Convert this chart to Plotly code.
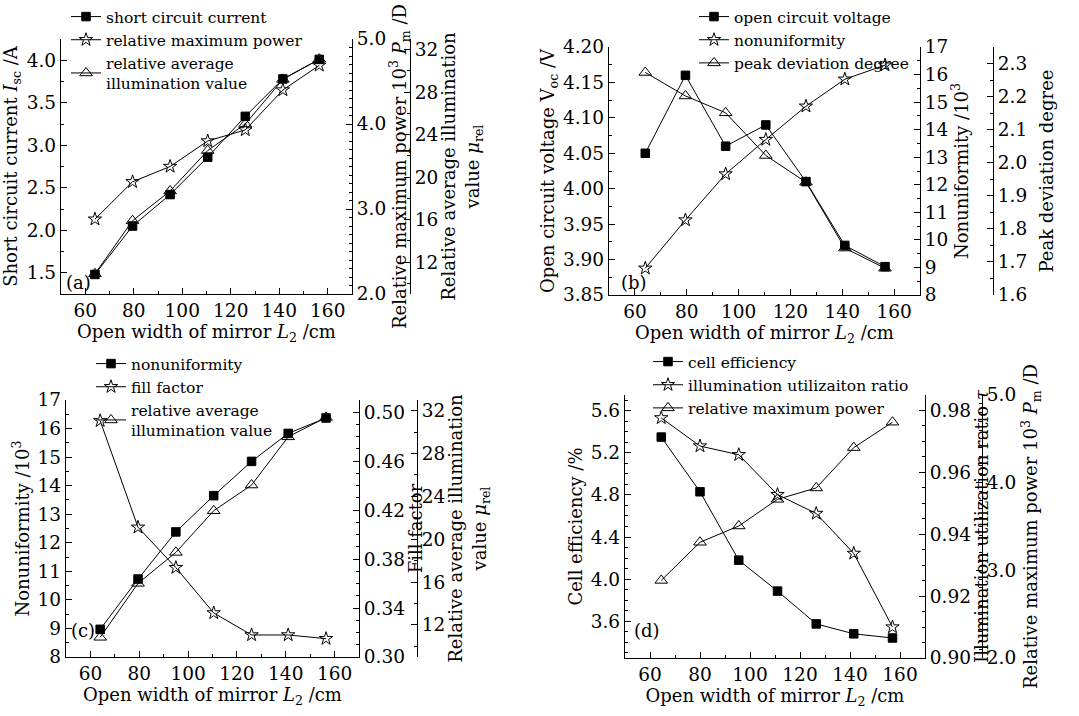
import plotly.graph_objects as go

W, H = 1079, 716
FONT = "DejaVu Serif"

# ---------------- data ----------------
# (a)
x_a = [64, 79.5, 95, 110.5, 126, 141.5, 156.5]
isc_a = [1.48, 2.05, 2.42, 2.86, 3.34, 3.78, 4.01]
pm_a = [2.88, 3.32, 3.50, 3.80, 3.93, 4.40, 4.69]
mu_a = [10.9, 15.9, 18.7, 22.5, 25.0, 29.2, 31.1]
# (b)
x_b = [64, 79.5, 95, 110.5, 126, 141, 156.5]
voc_b = [4.05, 4.16, 4.06, 4.09, 4.01, 3.92, 3.89]
nonuni_b = [8.97, 10.72, 12.39, 13.64, 14.85, 15.83, 16.34]
peak_b = [2.273, 2.202, 2.151, 2.022, 1.941, 1.742, 1.681]
# (c)
x_c = [64, 79.5, 95, 110.5, 126, 141, 156.5]
nonuni_c = [8.97, 10.73, 12.38, 13.65, 14.85, 15.83, 16.37]
ff_c = [0.493, 0.406, 0.373, 0.336, 0.318, 0.318, 0.315]
mu_c = [10.84, 15.88, 18.77, 22.66, 25.06, 29.56, 31.37]
# (d)
x_d = [64.5, 80, 95.5, 111, 126.5, 141.5, 157]
eff_d = [5.35, 4.83, 4.18, 3.886, 3.574, 3.48, 3.44]
tau_d = [0.9776, 0.9685, 0.9657, 0.9528, 0.9467, 0.9338, 0.910]
pm_d = [2.885, 3.32, 3.506, 3.81, 3.94, 4.40, 4.69]

names_a = ["short circuit current", "relative maximum power", "relative average<br>illumination value"]
names_b = ["open circuit voltage", "nonuniformity", "peak deviation degree"]
names_c = ["nonuniformity", "fill factor", "relative average<br>illumination value"]
names_d = ["cell efficiency", "illumination utilizaiton ratio", "relative maximum power"]

xlabel = "Open width of mirror <i>L</i><sub>2</sub> /cm"

# ---------------- styling helpers ----------------
def px_x(p):
    return p / W

def px_y(p):
    return 1 - p / H

TICKF = dict(family=FONT, size=18.5, color="black")
TITF = dict(family=FONT, size=18, color="black")

def axis_common(rng, dtick, tick0, minor_dtick, fmt):
    return dict(range=rng, dtick=dtick, tick0=tick0, tickformat=fmt,
                showline=True, linecolor="black", linewidth=1.3,
                ticks="inside", ticklen=6, tickwidth=1.2, tickcolor="black",
                minor=dict(dtick=minor_dtick, ticks="inside", ticklen=3, tickcolor="black", tickwidth=1),
                showgrid=False, zeroline=False, tickfont=TICKF, automargin=False, mirror=False)

STY = {
    "sq": dict(symbol="square", size=8.5, color="black", line=dict(color="black", width=1)),
    "st": dict(symbol="star-open", size=10, color="black", line=dict(color="black", width=1)),
    "tr": dict(symbol="triangle-up-open", size=11, color="black", line=dict(color="black", width=1)),
}

fig = go.Figure()

def add(x, y, name, sty, xa, ya, leg):
    fig.add_trace(go.Scatter(x=x, y=y, name=name, mode="lines+markers",
                             line=dict(color="black", width=1), marker=STY[sty],
                             xaxis=xa, yaxis=ya, legend=leg))

# panel a
add(x_a, isc_a, names_a[0], "sq", "x", "y", "legend")
add(x_a, pm_a, names_a[1], "st", "x", "y2", "legend")
add(x_a, mu_a, names_a[2], "tr", "x", "y3", "legend")
# panel b
add(x_b, voc_b, names_b[0], "sq", "x2", "y4", "legend2")
add(x_b, nonuni_b, names_b[1], "st", "x2", "y5", "legend2")
add(x_b, peak_b, names_b[2], "tr", "x2", "y6", "legend2")
# panel c
add(x_c, nonuni_c, names_c[0], "sq", "x3", "y7", "legend3")
add(x_c, ff_c, names_c[1], "st", "x3", "y8", "legend3")
add(x_c, mu_c, names_c[2], "tr", "x3", "y9", "legend3")
# panel d
add(x_d, eff_d, names_d[0], "sq", "x4", "y10", "legend4")
add(x_d, tau_d, names_d[1], "st", "x4", "y11", "legend4")
add(x_d, pm_d, names_d[2], "tr", "x4", "y12", "legend4")

panels = [
    # left, right, right2, top, bottom
    dict(l=61, r=352, r2=410, t=39, b=294),
    dict(l=609, r=920, r2=993, t=47, b=295),
    dict(l=66, r=359, r2=417, t=400, b=657),
    dict(l=625, r=925, r2=982, t=395, b=658),
]

yspecs = [
    [dict(rng=[1.25, 4.25], dtick=0.5, tick0=0, minor=0.25, fmt=".1f", so=5,
          title="Short circuit current <i>I</i><sub>sc</sub> /A"),
     dict(rng=[2, 5], dtick=1, tick0=0, minor=0.1, fmt=".1f", so=3,
          title="Relative maximum power 10<sup>3</sup> <i>P</i><sub>m</sub> /D"),
     dict(rng=[9, 33], dtick=4, tick0=0, minor=2, fmt="d", so=3,
          title="Relative average illumination<br>value <i>μ</i><sub>rel</sub>")],
    [dict(rng=[3.85, 4.20], dtick=0.05, tick0=0, minor=0.025, fmt=".2f", so=3,
          title="Open circuit voltage V<sub>oc</sub> /V"),
     dict(rng=[8, 17], dtick=1, tick0=0, minor=0.5, fmt="d", so=3,
          title="Nonuniformity /10<sup>3</sup>"),
     dict(rng=[1.6, 2.35], dtick=0.1, tick0=0, minor=0.05, fmt=".1f", so=14,
          title="Peak deviation degree")],
    [dict(rng=[8, 17], dtick=1, tick0=0, minor=0.5, fmt="d", so=3,
          title="Nonuniformity /10<sup>3</sup>"),
     dict(rng=[0.30, 0.51], dtick=0.04, tick0=0.30, minor=0.01, fmt=".2f", so=0,
          title="Fill factor"),
     dict(rng=[9, 33], dtick=4, tick0=0, minor=2, fmt="d", so=3,
          title="Relative average illumination<br>value <i>μ</i><sub>rel</sub>")],
    [dict(rng=[3.25, 5.75], dtick=0.4, tick0=0, minor=0.1, fmt=".1f", so=3,
          title="Cell efficiency /%"),
     dict(rng=[0.90, 0.985], dtick=0.02, tick0=0, minor=0.005, fmt=".2f", so=0,
          title="Illumination utilization ratio <i>τ</i>"),
     dict(rng=[2, 5], dtick=1, tick0=0, minor=0.1, fmt=".1f", so=9,
          title="Relative maximum power 10<sup>3</sup> <i>P</i><sub>m</sub> /D")],
]

layout = dict(width=W, height=H, margin=dict(l=0, r=0, t=0, b=0),
              paper_bgcolor="white", plot_bgcolor="white",
              font=dict(family=FONT, color="black", size=17))

for i, p in enumerate(panels):
    xi = "" if i == 0 else str(i + 1)
    xname = "x" + xi
    xd = [px_x(p["l"]), px_x(p["r"])]
    yd = [px_y(p["b"]), px_y(p["t"])]
    ya_idx = [3 * i + 1, 3 * i + 2, 3 * i + 3]
    yname0 = "y" + ("" if ya_idx[0] == 1 else str(ya_idx[0]))
    xa = axis_common([50, 170], 20, 0, 10, "d")
    xa.update(domain=xd, anchor=yname0, title=dict(text=xlabel, font=TITF, standoff=4))
    layout["xaxis" + xi] = xa
    for k in range(3):
        s = yspecs[i][k]
        ya = axis_common(s["rng"], s["dtick"], s["tick0"], s["minor"], s["fmt"])
        ya["title"] = dict(text=s["title"], font=TITF, standoff=s["so"])
        key = "yaxis" + ("" if ya_idx[k] == 1 else str(ya_idx[k]))
        if k == 0:
            ya.update(domain=yd, anchor=xname, side="left")
        elif k == 1:
            ya.update(overlaying=yname0, anchor=xname, side="right")
        else:
            ya.update(overlaying=yname0, anchor="free", side="right", position=px_x(p["r2"]))
        layout[key] = ya

legpos = [(66, 0), (694, 0), (91, 347), (648, 345)]
for i, (lx, ly) in enumerate(legpos):
    key = "legend" if i == 0 else "legend" + str(i + 1)
    layout[key] = dict(x=px_x(lx), y=px_y(ly), xanchor="left", yanchor="top",
                       bgcolor="rgba(0,0,0,0)", borderwidth=0,
                       font=dict(family=FONT, size=15.5, color="black"),
                       itemwidth=30, tracegroupgap=0)

fig.update_layout(**layout)

labels = [("(a)", 64, 283), ("(b)", 619, 283), ("(c)", 69, 643), ("(d)", 632, 643)]
for txt, lx, ly in labels:
    fig.add_annotation(text=txt, x=px_x(lx), y=px_y(ly), xref="paper", yref="paper",
                       xanchor="left", showarrow=False,
                       font=dict(family=FONT, size=18, color="black"))

fig.write_html("out.html")
